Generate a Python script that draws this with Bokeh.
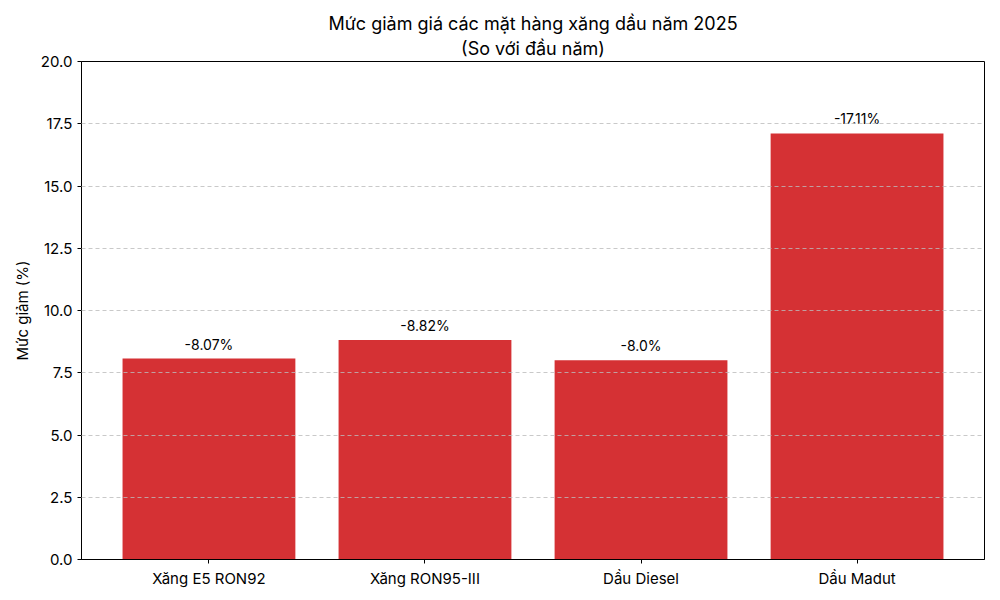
from bokeh.plotting import figure
from bokeh.models import Range1d, FixedTicker, ColumnDataSource, Title
from bokeh.core.properties import value
from bokeh.embed import file_html
from bokeh.resources import INLINE

categories = ["Xăng E5 RON92", "Xăng RON95-III", "Dầu Diesel", "Dầu Madut"]
reductions = [8.07, 8.82, 8.0, 17.11]
labels = ["-8.07%", "-8.82%", "-8.0%", "-17.11%"]
y_ticks = [0.0, 2.5, 5.0, 7.5, 10.0, 12.5, 15.0, 17.5, 20.0]
title_lines = ["Mức giảm giá các mặt hàng xăng dầu năm 2025", "(So với đầu năm)"]

FONT = "Inter"
xs = list(range(len(categories)))
src = ColumnDataSource(dict(x=xs, top=reductions, label=labels))

p = figure(width=992, height=592, output_backend="svg", toolbar_location=None,
           x_range=Range1d(-0.59, len(categories) - 1 + 0.59), y_range=Range1d(0, 20),
           min_border_left=81, min_border_right=8, min_border_top=61, min_border_bottom=33)

p.title.text = title_lines[0]
p.title.align = "center"
p.title.text_font = FONT
p.title.text_font_size = "18px"
p.title.text_font_style = "normal"
p.title.text_color = "#000000"
p.title.standoff = 0
p.add_layout(Title(text=title_lines[1], align="center", text_font=FONT,
                   text_font_size="18px", text_font_style="normal",
                   text_color="#000000", standoff=5), "above")

p.vbar(x="x", top="top", bottom=0, width=0.8, source=src,
       fill_color="#d42a2d", fill_alpha=0.97, line_color=None)
p.text(x="x", y="top", text="label", source=src, text_align="center",
       text_baseline="bottom", y_offset=-6, text_font=value(FONT),
       text_font_size="14px", text_color="#000000")

p.xaxis.ticker = FixedTicker(ticks=xs)
p.xaxis.major_label_overrides = {i: c for i, c in enumerate(categories)}
p.yaxis.ticker = FixedTicker(ticks=y_ticks)
p.yaxis.major_label_overrides = {t: f"{t:.1f}" for t in y_ticks}
p.yaxis.axis_label = "Mức giảm (%)"
p.yaxis.axis_label_text_font = FONT
p.yaxis.axis_label_text_font_size = "15px"
p.yaxis.axis_label_text_font_style = "normal"
p.yaxis.axis_label_text_color = "#000000"
p.yaxis.axis_label_standoff = 6

for ax in (p.xaxis, p.yaxis):
    ax.major_label_text_font = FONT
    ax.major_label_text_font_size = "15px"
    ax.major_label_text_color = "#000000"
    ax.axis_line_color = "#000000"
    ax.major_tick_line_color = "#000000"
    ax.major_tick_out = 4
    ax.major_tick_in = 0
    ax.minor_tick_line_color = None

p.xgrid.grid_line_color = None
p.ygrid.grid_line_color = "#bbbbbb"
p.ygrid.grid_line_dash = "4 3"
p.ygrid.grid_line_alpha = 0.8
p.ygrid.level = "overlay"
p.outline_line_color = "#000000"
p.outline_line_alpha = 1.0

open("out.html", "w").write(file_html(p, INLINE))
